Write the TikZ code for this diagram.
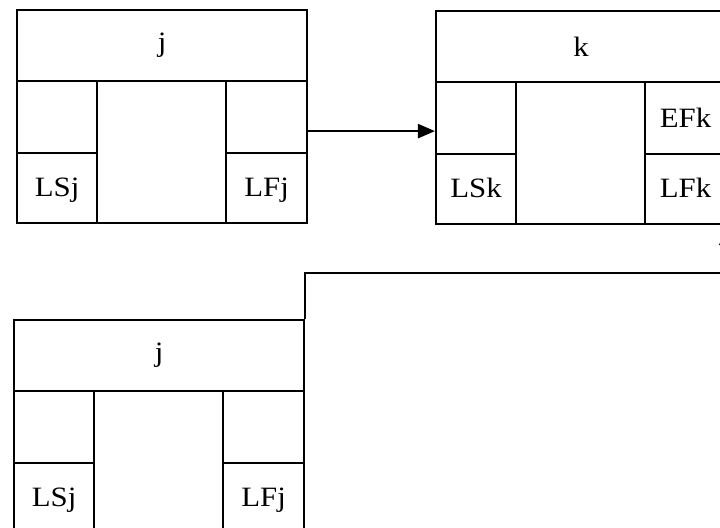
\documentclass[tikz,border=0pt]{standalone}
\usepackage{fontspec}
\usetikzlibrary{arrows.meta}
\newfontfamily\actfont[FakeStretch=1.1]{Liberation Serif}
\tikzset{
  cell/.style={draw, line width=1.1pt, inner sep=0pt, anchor=north west,
    font={\actfont\fontsize{14pt}{16pt}\selectfont}},
  link/.style={line width=1.1pt, -{Triangle[length=8.5pt,width=7pt]}},
  % activity-on-node box: header, two side columns split in two, blank middle
  pics/activity/.style n args={4}{code={
    \node[cell, minimum width=145pt, minimum height=35.5pt] (-head) at (0,0) {#1};
    \node[cell, minimum width=40pt, minimum height=36pt] (-lt) at (0,71) {};
    \node[cell, minimum width=40pt, minimum height=35pt, text depth=1pt] (-lb) at (0,143) {#2};
    \node[cell, minimum width=64.5pt, minimum height=71pt] (-mid) at (80,71) {};
    \node[cell, minimum width=40.5pt, minimum height=36pt] (-rt) at (209,71) {#3};
    \node[cell, minimum width=40.5pt, minimum height=35pt, text depth=1pt] (-rb) at (209,143) {#4};
  }}
}
\begin{document}
\begin{tikzpicture}[x=0.5pt, y=-0.5pt]
  \useasboundingbox (0,0) rectangle (720,527);
  \clip (0,0) rectangle (720,527);

  \pic (jA) at (16,9)   {activity={j}{LSj}{}{LFj}};
  \pic (kA) at (435,10) {activity={k}{LSk}{EFk}{LFk}};
  \pic (jB) at (13,319) {activity={j}{LSj}{}{LFj}};

  \draw[link] ([yshift=-7pt]jA-rt.east) -- ([yshift=-6.5pt]kA-lt.west);
  \draw[link, shorten >=1.5pt] (jB-head.north east) -- ++(0,-46)
    -| ([xshift=-0.5pt]kA-rb.south east);
\end{tikzpicture}
\end{document}
